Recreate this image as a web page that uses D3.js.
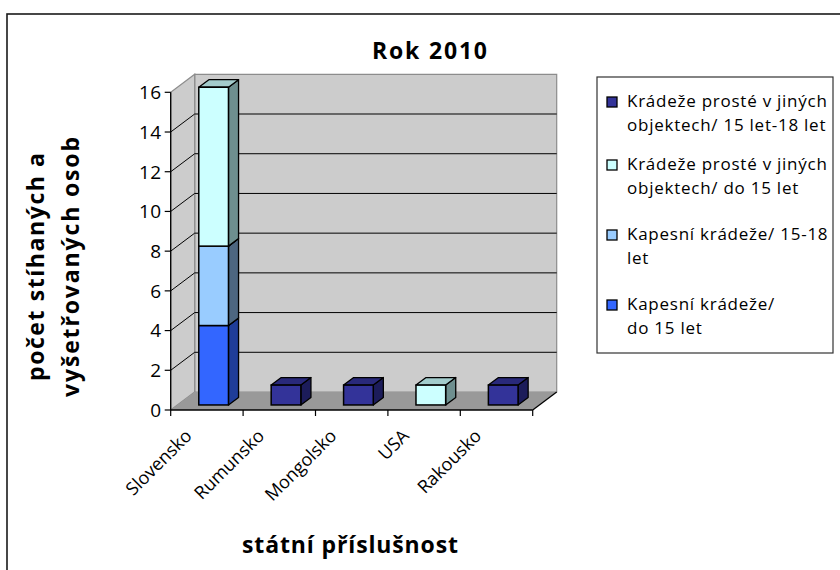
<!DOCTYPE html>
<html>
<head>
<meta charset="utf-8">
<script src="https://cdn.jsdelivr.net/npm/d3@7"></script>
<style>
  body { margin: 0; background: #fff; }
  svg { font-family: "Open Sans", "Noto Sans", sans-serif; }
</style>
</head>
<body>
<svg class="chart_svg" width="840" height="570"></svg>
<script>
// data
var countries = ["Slovensko", "Rumunsko", "Mongolsko", "USA", "Rakousko"];
var kapesni_do15 = [4, 0, 0, 0, 0];
var kapesni_15_18 = [4, 0, 0, 0, 0];
var kradeze_do15 = [8, 0, 0, 1, 0];
var kradeze_15_18 = [0, 1, 1, 0, 1];
var series_names = [
    ["Kapesní krádeže/", "do 15 let"],
    ["Kapesní krádeže/ 15-18", "let"],
    ["Krádeže prosté v jiných", "objektech/ do 15 let"],
    ["Krádeže prosté v jiných", "objektech/ 15 let-18 let"]
];
var y_ticks = [0, 2, 4, 6, 8, 10, 12, 14, 16];

var keys = ["k1", "k2", "k3", "k4"];
var fronts = ["#3366ff", "#99ccff", "#ccffff", "#333399"],
    sides = ["#1f3d99", "#4d6680", "#6e8f8f", "#1c1c5a"],
    tops = ["#2952cc", "#7aa3cc", "#a3cccc", "#29297a"];

var rows = countries.map(function (c, i) {
    return { c: c, k1: kapesni_do15[i], k2: kapesni_15_18[i], k3: kradeze_do15[i], k4: kradeze_15_18[i] };
});
var stacked = d3.stack().keys(keys)(rows);

var svg = d3.select(".chart_svg");

// outer frame
svg.append("rect")
    .attr("x", 7).attr("y", 14).attr("width", 850).attr("height", 580)
    .attr("fill", "none").attr("stroke", "#1a1a1a").attr("stroke-width", 1.6);

var ddx = 24, ddy = -18; // depth offset
var x = d3.scaleBand().domain(countries).range([170.7, 532.7])
    .paddingInner(0.59).paddingOuter(0.295);
var y = d3.scaleLinear().domain([0, 16]).range([410, 92.3]);
var x0 = x.range()[0], x1 = x.range()[1];

function pts(a) { return a.map(function (p) { return p.join(","); }).join(" "); }
function fit(sel, w) { // stretch text like the excel rendering
    return sel.attr("textLength", w).attr("lengthAdjust", "spacing");
}

// walls and floor
svg.append("polygon") // back wall
    .attr("points", pts([[x0 + ddx, y(0) + ddy], [x0 + ddx, y(16) + ddy], [x1 + ddx, y(16) + ddy], [x1 + ddx, y(0) + ddy]]))
    .attr("fill", "#cccccc").attr("stroke", "#8c8c8c").attr("stroke-width", 1.2);
svg.append("polygon") // side wall
    .attr("points", pts([[x0, y(0)], [x0, y(16)], [x0 + ddx, y(16) + ddy], [x0 + ddx, y(0) + ddy]]))
    .attr("fill", "#cccccc").attr("stroke", "#8c8c8c").attr("stroke-width", 1.2);
svg.append("polygon") // floor
    .attr("points", pts([[x0, y(0)], [x1, y(0)], [x1 + ddx, y(0) + ddy], [x0 + ddx, y(0) + ddy]]))
    .attr("fill", "#999999");

// gridlines
y_ticks.filter(function (v) { return v > 0 && v < 16; }).forEach(function (v) {
    svg.append("line")
        .attr("x1", x0).attr("y1", y(v)).attr("x2", x0 + ddx).attr("y2", y(v) + ddy)
        .attr("stroke", "#000").attr("stroke-width", 1);
    svg.append("line")
        .attr("x1", x0 + ddx).attr("y1", y(v) + ddy).attr("x2", x1 + ddx).attr("y2", y(v) + ddy)
        .attr("stroke", "#000").attr("stroke-width", 1);
});

// axes
svg.append("line").attr("x1", x0).attr("y1", y(0)).attr("x2", x0).attr("y2", y(16))
    .attr("stroke", "#000").attr("stroke-width", 1.3);
svg.append("line").attr("x1", x0).attr("y1", y(0)).attr("x2", x1).attr("y2", y(0))
    .attr("stroke", "#000").attr("stroke-width", 1.3);
svg.append("line").attr("x1", x1).attr("y1", y(0)).attr("x2", x1 + ddx).attr("y2", y(0) + ddy)
    .attr("stroke", "#000").attr("stroke-width", 1.3);

y_ticks.forEach(function (v) {
    svg.append("line").attr("x1", x0 - 6).attr("y1", y(v)).attr("x2", x0).attr("y2", y(v))
        .attr("stroke", "#000").attr("stroke-width", 1.2);
    svg.append("text").text(v)
        .attr("x", x0 - 9).attr("y", y(v)).attr("dy", ".36em")
        .attr("text-anchor", "end").style("font-size", "19px").style("letter-spacing", "0.5px")
        .style("fill", "#000");
});
d3.range(countries.length + 1).forEach(function (i) {
    var tx = x0 + i * x.step();
    svg.append("line").attr("x1", tx).attr("y1", y(0)).attr("x2", tx).attr("y2", y(0) + 6)
        .attr("stroke", "#000").attr("stroke-width", 1.2);
});
countries.forEach(function (c) {
    var cx = x(c) + x.bandwidth() / 2 - 14, cy = 437;
    svg.append("text").text(c)
        .attr("transform", "translate(" + cx + "," + cy + ") rotate(-45)")
        .attr("text-anchor", "end").style("font-size", "18px")
        .style("fill", "#000");
});

// bars
var fd = 0.28, bd = 0.42; // front depth fraction, bar depth fraction
stacked.forEach(function (s, si) {
    s.forEach(function (d, i) {
        if (d[1] - d[0] <= 0) return;
        var l = x(countries[i]) + ddx * fd, r = l + x.bandwidth();
        var b = y(d[0]) + ddy * fd, t = y(d[1]) + ddy * fd;
        var ox = ddx * bd, oy = ddy * bd;
        svg.append("polygon") // side
            .attr("points", pts([[r, b], [r, t], [r + ox, t + oy], [r + ox, b + oy]]))
            .attr("fill", sides[si]).attr("stroke", "#000").attr("stroke-width", 1.3).attr("stroke-linejoin", "round");
        svg.append("polygon") // top
            .attr("points", pts([[l, t], [r, t], [r + ox, t + oy], [l + ox, t + oy]]))
            .attr("fill", tops[si]).attr("stroke", "#000").attr("stroke-width", 1.3).attr("stroke-linejoin", "round");
        svg.append("rect") // front
            .attr("x", l).attr("y", t).attr("width", r - l).attr("height", b - t)
            .attr("fill", fronts[si]).attr("stroke", "#000").attr("stroke-width", 1.5);
    });
});

// title
fit(svg.append("text").text("Rok 2010")
    .attr("x", 372).attr("y", 59)
    .style("font-size", "23px").style("font-weight", "bold"), 115);

// axis titles
fit(svg.append("text").text("státní příslušnost")
    .attr("x", 242).attr("y", 553)
    .style("font-size", "23px").style("font-weight", "bold"), 216);
var yt = svg.append("g").attr("transform", "translate(44,267) rotate(-90)");
fit(yt.append("text").text("počet stíhaných a")
    .attr("x", -114).style("font-size", "23px").style("font-weight", "bold"), 228);
fit(yt.append("text").text("vyšetřovaných osob")
    .attr("x", -130).attr("y", 35).style("font-size", "23px").style("font-weight", "bold"), 260);

// legend
svg.append("rect").attr("x", 597).attr("y", 77).attr("width", 236).attr("height", 276)
    .attr("fill", "#fff").attr("stroke", "#333").attr("stroke-width", 1.2);
var leg_base = [107, 170, 240, 310];
[3, 2, 1, 0].forEach(function (si, j) {
    var by = leg_base[j];
    svg.append("rect").attr("x", 607).attr("y", by - 10).attr("width", 10).attr("height", 10)
        .attr("fill", fronts[si]).attr("stroke", "#000").attr("stroke-width", 1.3);
    series_names[si].forEach(function (ln, k) {
        svg.append("text").text(ln)
            .attr("x", 627).attr("y", by + k * 24)
            .style("font-size", "17px").style("letter-spacing", "0.75px");
    });
});
</script>
</body>
</html>
